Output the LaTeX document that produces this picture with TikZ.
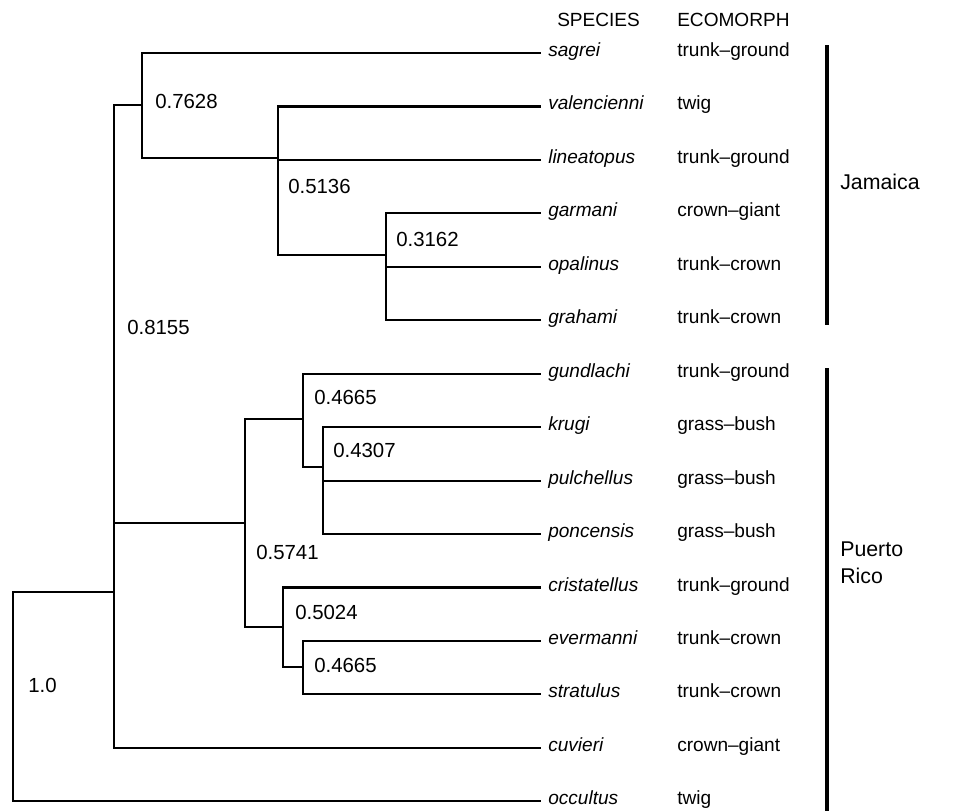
\documentclass[tikz,border=0pt]{standalone}
\usepackage{fontspec}
\setmainfont{Liberation Sans}
\begin{document}
\begin{tikzpicture}[x=0.75pt,y=-0.75pt,
  branch/.style={line width=1.6pt, line cap=rect},
  regionbar/.style={line width=2.3pt},
  sp/.style={anchor=mid west, inner sep=0pt, font=\fontsize{14.3}{17}\selectfont\itshape},
  eco/.style={anchor=mid west, inner sep=0pt, font=\fontsize{14.3}{17}\selectfont},
  head/.style={anchor=base west, inner sep=0pt, font=\fontsize{14.3}{17}\selectfont},
  support/.style={anchor=base west, inner sep=0pt, font=\fontsize{15.3}{18}\selectfont},
  regionlbl/.style={anchor=base west, inner sep=0pt, font=\fontsize{16}{20}\selectfont},
  region/.style={anchor=north west, inner sep=0pt, align=left, font=\fontsize{16}{20.25}\selectfont}
]
\useasboundingbox (0,0) rectangle (977,811);

% headers
\node[head] (hsp) at (557,26) {SPECIES};
\node[head] (heco) at (677,26) {ECOMORPH};

% leaves
\foreach \nm/\i/\eco in {sagrei/0/trunk--ground, valencienni/1/twig, lineatopus/2/trunk--ground,
  garmani/3/crown--giant, opalinus/4/trunk--crown, grahami/5/trunk--crown,
  gundlachi/6/trunk--ground, krugi/7/grass--bush, pulchellus/8/grass--bush,
  poncensis/9/grass--bush, cristatellus/10/trunk--ground, evermanni/11/trunk--crown,
  stratulus/12/trunk--crown, cuvieri/13/crown--giant, occultus/14/twig}{
  \pgfmathsetmacro{\yy}{53+53.45*\i}
  \coordinate (t\nm) at (540,\yy);
  \node[sp] (s\nm) at (548,\yy) {\nm};
  \node[eco] (e\nm) at (677,\yy) {\eco};
}

% internal nodes
\coordinate (root) at (13,592);
\coordinate (nA) at (114,592);
\coordinate (nJ) at (142,105);
\coordinate (n5136) at (278,158);
\coordinate (n3162) at (386,255);
\coordinate (nPR) at (245,523);
\coordinate (n4665a) at (303,419);
\coordinate (n4307) at (323,467);
\coordinate (n5024) at (283,627);
\coordinate (n4665b) at (303,667);

% branches
\draw[branch] (root) |- (toccultus);
\draw[branch] (root) -- (nA);
\draw[branch] (nA) |- (nJ);
\draw[branch] (nA) |- (nPR);
\draw[branch] (nA) |- (tcuvieri);
\draw[branch] (nJ) |- (tsagrei);
\draw[branch] (nJ) |- (n5136);
\draw[branch] (n5136) |- (tvalencienni);
\draw[branch] (n5136) |- (tlineatopus);
\draw[branch] (n5136) |- (n3162);
\draw[branch] (n3162) |- (tgarmani);
\draw[branch] (n3162) |- (topalinus);
\draw[branch] (n3162) |- (tgrahami);
\draw[branch] (nPR) |- (n4665a);
\draw[branch] (nPR) |- (n5024);
\draw[branch] (n4665a) |- (tgundlachi);
\draw[branch] (n4665a) |- (n4307);
\draw[branch] (n4307) |- (tkrugi);
\draw[branch] (n4307) |- (tpulchellus);
\draw[branch] (n4307) |- (tponcensis);
\draw[branch] (n5024) |- (tcristatellus);
\draw[branch] (n5024) |- (n4665b);
\draw[branch] (n4665b) |- (tevermanni);
\draw[branch] (n4665b) |- (tstratulus);

% support values
\node[support] (l7628) at (155,108) {0.7628};
\node[support] (l5136) at (288,193) {0.5136};
\node[support] (l3162) at (396,246) {0.3162};
\node[support] (l8155) at (127,334) {0.8155};
\node[support] (l4665a) at (314,404.5) {0.4665};
\node[support] (l4307) at (333,457) {0.4307};
\node[support] (l5741) at (256,559) {0.5741};
\node[support] (l5024) at (295,619) {0.5024};
\node[support] (l4665b) at (314,672) {0.4665};
\node[support] (l10) at (28,692) {1.0};

% region bars
\coordinate (jtop) at (827,45);
\coordinate (jbot) at (827,325);
\coordinate (ptop) at (827,368);
\coordinate (pbot) at (827,811);
\draw[regionbar] (jtop) -- (jbot);
\draw[regionbar] (ptop) -- (pbot);
\node[regionlbl] (jam) at (840,189) {Jamaica};
\node[region] (pr) at (840,542) {Puerto\\Rico};
\end{tikzpicture}
\end{document}
